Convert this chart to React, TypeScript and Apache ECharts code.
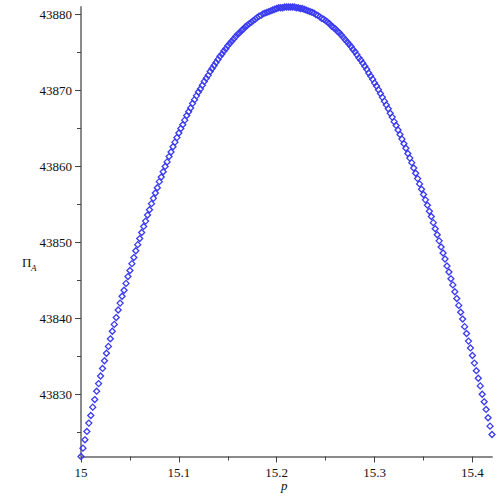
import React, { useEffect, useRef } from "react";
import * as echarts from "echarts";

// price grid: p = 15, 15.002, ..., 15.42
const P_START = 15;
const P_STEP = 0.002;

// Π_A values, one per grid point
const PROFIT = [
  43821.8, 43822.9, 43824.0, 43825.1, 43826.2, 43827.2, 43828.3, 43829.3, 43830.4, 43831.4,
  43832.4, 43833.4, 43834.4, 43835.4, 43836.3, 43837.3, 43838.3, 43839.2, 43840.1, 43841.1,
  43842.0, 43842.9, 43843.7, 43844.6, 43845.5, 43846.3, 43847.2, 43848.0, 43848.9, 43849.7,
  43850.5, 43851.3, 43852.1, 43852.8, 43853.6, 43854.3, 43855.1, 43855.8, 43856.5, 43857.2,
  43858.0, 43858.6, 43859.3, 43860.0, 43860.6, 43861.3, 43861.9, 43862.6, 43863.2, 43863.8,
  43864.4, 43865.0, 43865.5, 43866.1, 43866.7, 43867.2, 43867.7, 43868.3, 43868.8, 43869.3,
  43869.8, 43870.2, 43870.7, 43871.2, 43871.6, 43872.0, 43872.5, 43872.9, 43873.3, 43873.7,
  43874.1, 43874.5, 43874.8, 43875.2, 43875.5, 43875.9, 43876.2, 43876.5, 43876.8, 43877.1,
  43877.4, 43877.6, 43877.9, 43878.1, 43878.4, 43878.6, 43878.8, 43879.0, 43879.2, 43879.4,
  43879.6, 43879.8, 43879.9, 43880.1, 43880.2, 43880.3, 43880.4, 43880.5, 43880.6, 43880.7,
  43880.8, 43880.9, 43880.9, 43880.9, 43881.0, 43881.0, 43881.0, 43881.0, 43881.0, 43881.0,
  43880.9, 43880.9, 43880.8, 43880.8, 43880.7, 43880.6, 43880.5, 43880.4, 43880.3, 43880.2,
  43880.0, 43879.9, 43879.7, 43879.5, 43879.4, 43879.2, 43879.0, 43878.8, 43878.5, 43878.3,
  43878.1, 43877.8, 43877.6, 43877.3, 43877.0, 43876.7, 43876.4, 43876.1, 43875.8, 43875.4,
  43875.1, 43874.7, 43874.3, 43874.0, 43873.6, 43873.2, 43872.8, 43872.3, 43871.9, 43871.5,
  43871.0, 43870.6, 43870.1, 43869.6, 43869.1, 43868.6, 43868.1, 43867.6, 43867.0, 43866.5,
  43865.9, 43865.4, 43864.8, 43864.2, 43863.6, 43863.0, 43862.4, 43861.7, 43861.1, 43860.5,
  43859.8, 43859.1, 43858.4, 43857.7, 43857.0, 43856.3, 43855.6, 43854.9, 43854.1, 43853.4,
  43852.6, 43851.8, 43851.0, 43850.2, 43849.4, 43848.6, 43847.8, 43846.9, 43846.1, 43845.2,
  43844.4, 43843.5, 43842.6, 43841.7, 43840.8, 43839.9, 43838.9, 43838.0, 43837.0, 43836.1,
  43835.1, 43834.1, 43833.1, 43832.1, 43831.1, 43830.0, 43829.0, 43828.0, 43826.9, 43825.8,
  43824.7,
];

const X_MIN = 15;
const X_MAX = 15.42;
const Y_MIN = 43821.8;
const Y_MAX = 43881.0;

const X_MAJOR_TICKS = [15, 15.1, 15.2, 15.3, 15.4];
const X_MINOR_TICKS = [15.05, 15.15, 15.25, 15.35];
const Y_MAJOR_TICKS = [43830, 43840, 43850, 43860, 43870, 43880];
const Y_MINOR_TICKS = [43825, 43835, 43845, 43855, 43865, 43875];

const AXIS_COLOR = "#8a8a8a";
const MARKER_COLOR = "#3a3af0";
const FONT = "Liberation Serif";

export default function App() {
  const ref = useRef<HTMLDivElement>(null);

  useEffect(() => {
    if (!ref.current) return;
    const chart = echarts.init(ref.current, undefined, { renderer: "svg" });

    const data = PROFIT.map((v, i) => [
      Number((P_START + i * P_STEP).toFixed(3)),
      v,
    ]);

    const labelStyle = {
      show: true,
      margin: 9,
      color: "#111",
      fontFamily: FONT,
      fontSize: 13,
      fontWeight: "normal",
      formatter: (v: number) => String(v),
    };

    chart.setOption({
      animation: false,
      backgroundColor: "#ffffff",
      textStyle: { fontFamily: FONT, fontSize: 13 },
      grid: { left: 81, right: 8, top: 7, bottom: 43.5, containLabel: false },
      xAxis: [
        {
          type: "value",
          min: X_MIN,
          max: X_MAX,
          position: "bottom",
          splitLine: { show: false },
          axisLine: { show: true, lineStyle: { color: AXIS_COLOR, width: 2 } },
          axisTick: {
            show: true,
            inside: false,
            length: 6,
            customValues: X_MAJOR_TICKS,
            lineStyle: { color: "#444", width: 1 },
          },
          axisLabel: { ...labelStyle, customValues: X_MAJOR_TICKS },
        },
        {
          type: "value",
          min: X_MIN,
          max: X_MAX,
          position: "bottom",
          splitLine: { show: false },
          axisLine: { show: false },
          axisTick: {
            show: true,
            inside: false,
            length: 4,
            customValues: X_MINOR_TICKS,
            lineStyle: { color: "#444", width: 1 },
          },
          axisLabel: { show: false },
        },
      ],
      yAxis: [
        {
          type: "value",
          min: Y_MIN,
          max: Y_MAX,
          position: "left",
          splitLine: { show: false },
          axisLine: { show: true, lineStyle: { color: AXIS_COLOR, width: 2 } },
          axisTick: {
            show: true,
            inside: false,
            length: 6,
            customValues: Y_MAJOR_TICKS,
            lineStyle: { color: "#444", width: 1 },
          },
          axisLabel: { ...labelStyle, customValues: Y_MAJOR_TICKS },
        },
        {
          type: "value",
          min: Y_MIN,
          max: Y_MAX,
          position: "left",
          splitLine: { show: false },
          axisLine: { show: false },
          axisTick: {
            show: true,
            inside: false,
            length: 4,
            customValues: Y_MINOR_TICKS,
            lineStyle: { color: "#444", width: 1 },
          },
          axisLabel: { show: false },
        },
      ],
      graphic: [
        {
          type: "text",
          left: 22,
          top: 256,
          style: { text: "Π", fontFamily: FONT, fontSize: 13, fill: "#111" },
        },
        {
          type: "text",
          left: 31,
          top: 263,
          style: {
            text: "A",
            fontFamily: FONT,
            fontSize: 9,
            fontStyle: "italic",
            fill: "#111",
          },
        },
        {
          type: "text",
          left: 281,
          top: 479,
          style: {
            text: "p",
            fontFamily: FONT,
            fontSize: 13,
            fontStyle: "italic",
            fill: "#111",
          },
        },
      ],
      series: [
        {
          type: "scatter",
          xAxisIndex: 0,
          yAxisIndex: 0,
          data,
          clip: false,
          symbol: "diamond",
          symbolSize: 6,
          itemStyle: {
            color: "rgba(0,0,0,0)",
            borderColor: MARKER_COLOR,
            borderWidth: 1.3,
            opacity: 1,
          },
          emphasis: { disabled: true },
        },
      ],
    });

    return () => chart.dispose();
  }, []);

  return (
    <div
      ref={ref}
      style={{ position: "fixed", left: 0, top: 0, width: 500, height: 500 }}
    />
  );
}
